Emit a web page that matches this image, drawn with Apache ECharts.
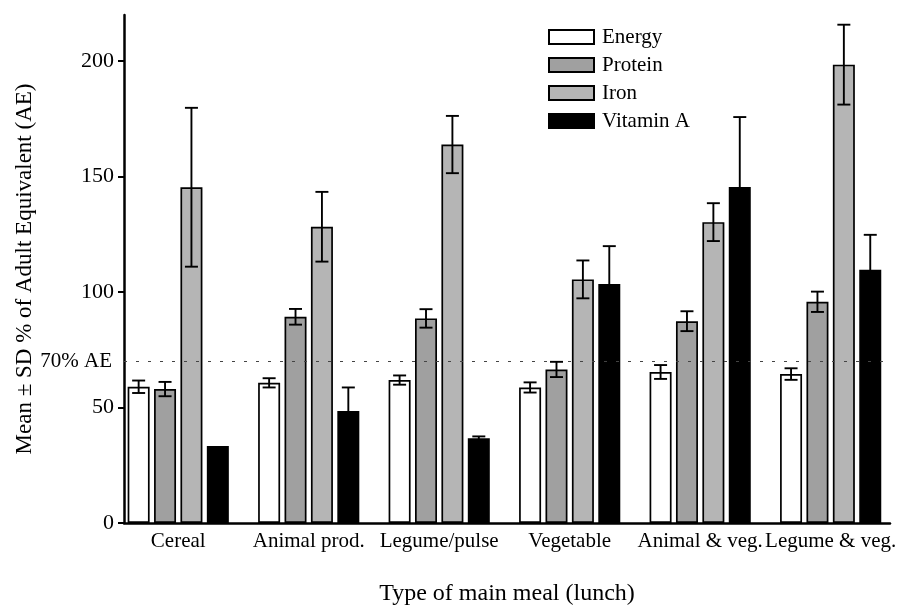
<!DOCTYPE html>
<html>
<head>
<meta charset="utf-8">
<title>Mean ± SD % of Adult Equivalent by type of main meal</title>
<script src="https://cdn.jsdelivr.net/npm/echarts@6/dist/echarts.min.js"></script>
<style>
  html, body { margin: 0; padding: 0; background: #fff; }
  #chart { width: 899px; height: 611px; }
</style>
</head>
<body>
<div id="chart"></div>
<script>
// type of main meal (lunch)
const categories = ['Cereal', 'Animal prod.', 'Legume/pulse', 'Vegetable', 'Animal & veg.', 'Legume & veg.'];

// mean % of adult equivalent and SD
const energy = [59.0, 60.7, 61.9, 58.7, 65.4, 64.5];
const energySd = [2.7, 2.0, 2.0, 2.2, 3.0, 2.5];
const protein = [58.0, 89.3, 88.6, 66.5, 87.4, 95.8];
const proteinSd = [3.1, 3.4, 4.0, 3.3, 4.3, 4.4];
const iron = [145.4, 128.3, 163.9, 105.5, 130.3, 198.5];
const ironSd = [34.4, 15.1, 12.4, 8.2, 8.2, 17.3];
const vitaminA = [33.3, 48.5, 36.7, 103.5, 145.5, 109.7];
const vitaminASd = [0, 10.2, 0.8, 16.4, 30.3, 15.1];

const yTicks = [0, 50, 100, 150, 200];
const refLevel = 70;

const FONT = "'Liberation Serif', 'DejaVu Serif', serif";
const BAR_W = 22;
const BAR_GAP = 0.2; // share of bar width

const nutrients = [
    { name: 'Energy', mean: energy, sd: energySd, color: '#ffffff' },
    { name: 'Protein', mean: protein, sd: proteinSd, color: '#a0a0a0' },
    { name: 'Iron', mean: iron, sd: ironSd, color: '#b5b5b5' },
    { name: 'Vitamin A', mean: vitaminA, sd: vitaminASd, color: '#000000' }
];

// error bar rows: [category, nutrient index, mean, sd]
const errData = [];
nutrients.forEach((n, k) => {
    n.mean.forEach((m, i) => {
        if (n.sd[i] > 0) errData.push([i, k, m, n.sd[i]]);
    });
});

function renderErr(params, api) {
    const cat = api.value(0);
    const k = api.value(1);
    const m = api.value(2);
    const sd = api.value(3);
    const pitch = BAR_W * (1 + BAR_GAP);
    const dx = (k - (nutrients.length - 1) / 2) * pitch;
    const hi = api.coord([cat, m + sd]);
    const lo = api.coord([cat, m - sd]);
    const x = hi[0] + dx;
    const cap = 6.5;
    const style = { stroke: '#000', lineWidth: 1.9, fill: null };
    return {
        type: 'group',
        children: [
            { type: 'line', shape: { x1: x, y1: hi[1], x2: x, y2: lo[1] }, style },
            { type: 'line', shape: { x1: x - cap, y1: hi[1], x2: x + cap, y2: hi[1] }, style },
            { type: 'line', shape: { x1: x - cap, y1: lo[1], x2: x + cap, y2: lo[1] }, style }
        ]
    };
}

const series = nutrients.map(n => ({
    name: n.name,
    type: 'bar',
    xAxisIndex: 0,
    yAxisIndex: 0,
    barWidth: BAR_W,
    barGap: (BAR_GAP * 100) + '%',
    data: n.mean,
    itemStyle: { color: n.color, borderColor: '#000', borderWidth: 1.7 },
    emphasis: { disabled: true }
}));

series.push({
    type: 'custom',
    name: 'sd',
    xAxisIndex: 0,
    yAxisIndex: 0,
    renderItem: renderErr,
    data: errData,
    encode: { x: 0, y: 2 },
    z: 5,
    clip: false,
    silent: true
});

// frame grid only carries the 70% AE reference line
series.push({
    type: 'line',
    xAxisIndex: 1,
    yAxisIndex: 1,
    data: [],
    silent: true,
    markLine: {
        silent: true,
        symbol: 'none',
        lineStyle: { color: '#444', width: 1, type: [3, 9] },
        label: {
            formatter: '70% AE',
            position: 'start',
            distance: 12,
            color: '#000',
            fontFamily: FONT,
            fontSize: 21
        },
        data: [{ yAxis: refLevel }]
    }
});

const option = {
    animation: false,
    textStyle: { fontFamily: FONT, color: '#000' },
    legend: {
        orient: 'vertical',
        left: 543,
        top: 21,
        itemWidth: 45,
        itemHeight: 14,
        itemGap: 6,
        icon: 'rect',
        data: nutrients.map(n => n.name),
        textStyle: { fontFamily: FONT, fontSize: 21, color: '#000', lineHeight: 22, padding: [0, 0, 0, 3] }
    },
    grid: [
        { left: 113, right: 0, top: 15, bottom: 88 },
        { left: 124, right: 9, top: 15, bottom: 88 }
    ],
    xAxis: [
        {
            type: 'category',
            gridIndex: 0,
            data: categories,
            axisLine: { show: false },
            axisTick: { show: false },
            axisLabel: { interval: 0, fontFamily: FONT, fontSize: 21, color: '#000', margin: 8 }
        },
        {
            type: 'value',
            gridIndex: 1,
            min: 0,
            max: 1,
            axisLine: { show: true, lineStyle: { color: '#000', width: 2.5 } },
            axisTick: { show: false },
            axisLabel: { show: false },
            splitLine: { show: false },
            name: 'Type of main meal (lunch)',
            nameLocation: 'middle',
            nameGap: 59,
            nameTextStyle: { fontFamily: FONT, fontSize: 24, color: '#000' }
        }
    ],
    yAxis: [
        {
            type: 'value',
            gridIndex: 0,
            min: 0,
            max: 220,
            show: false
        },
        {
            type: 'value',
            gridIndex: 1,
            min: 0,
            max: 220,
            interval: 50,
            axisLine: { show: true, lineStyle: { color: '#000', width: 2.5 } },
            axisTick: { show: true, length: 6, lineStyle: { color: '#000', width: 2 }, customValues: yTicks },
            axisLabel: { fontFamily: FONT, fontSize: 22, color: '#000', margin: 10, customValues: yTicks },
            splitLine: { show: false },
            name: 'Mean ± SD % of Adult Equivalent (AE)',
            nameLocation: 'middle',
            nameGap: 88,
            nameTextStyle: { fontFamily: FONT, fontSize: 23, color: '#000' }
        }
    ],
    series
};

const chart = echarts.init(document.getElementById('chart'), null, { renderer: 'canvas' });
chart.setOption(option);
</script>
</body>
</html>
